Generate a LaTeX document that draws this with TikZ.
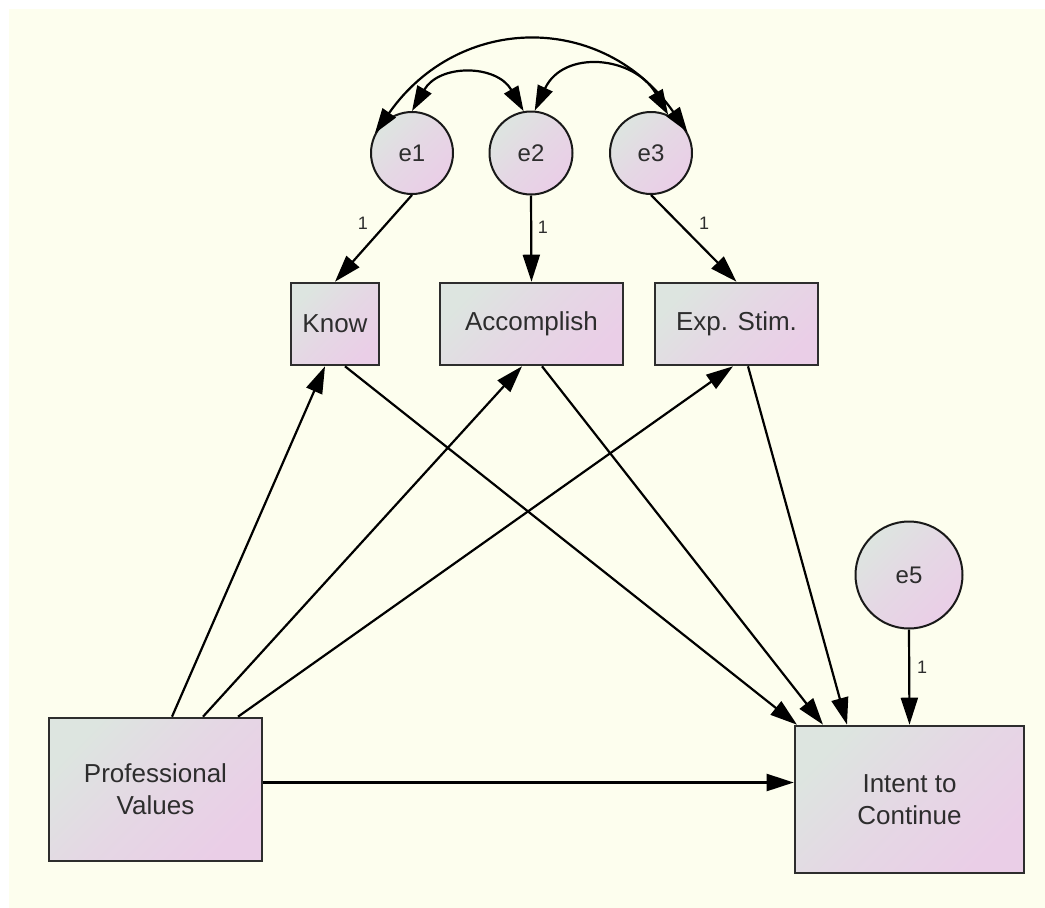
\documentclass[tikz,border=0pt]{standalone}
\usepackage{fontspec}
\newfontfamily\arialf{Liberation Sans}
\usetikzlibrary{arrows.meta,calc}
\definecolor{creambg}{RGB}{253,254,238}
\definecolor{gA}{RGB}{221,229,224}
\definecolor{gB}{RGB}{234,206,231}
\colorlet{gM}{gA!40!gB}
\definecolor{boxline}{RGB}{45,45,45}
\definecolor{txt}{RGB}{45,45,45}
\tikzset{
  obsbox/.style={rectangle, draw=boxline, line width=2.6pt, inner sep=0pt,
    left color=gA, right color=gB, middle color=gM, shading angle=45, align=center,
    text=txt, font=\arialf\fontsize{26}{32}\selectfont},
  errc/.style={circle, draw=black!90, line width=2pt, inner sep=0pt,
    left color=gA, right color=gB, middle color=gM, shading angle=45,
    text=txt, font=\arialf\fontsize{24}{28}\selectfont},
  pth/.style={line width=2.2pt, -{Triangle[length=27pt,width=17pt]}},
  cov/.style={line width=2.2pt, {Triangle[length=25pt,width=16pt]}-{Triangle[length=25pt,width=16pt]}},
  wlab/.style={inner sep=0pt, text=txt, font=\arialf\fontsize{18}{20}\selectfont}
}
\begin{document}
\begin{tikzpicture}[x=1pt,y=-1pt]
\useasboundingbox (0,0) rectangle (1045,908);
\fill[white] (0,0) rectangle (1045,908);
\fill[creambg] (9,9) rectangle (1060,920);

% error circles
\node[errc, minimum size=82pt] (e1) at (412,153) {e1};
\node[errc, minimum size=83pt] (e2) at (531,153) {e2};
\node[errc, minimum size=82pt] (e3) at (651,153) {e3};
\node[errc, minimum size=107pt] (e5) at (909,575) {e5};

% observed variables
\node[obsbox, minimum width=88pt, minimum height=82pt] (know) at (335,324) {Know};
\node[obsbox, minimum width=183pt, minimum height=82pt] (acc) at (531.5,324) {Accomplish};
\node[obsbox, minimum width=163pt, minimum height=82pt] (exp) at (736.5,324) {Exp. Stim.};
\node[obsbox, minimum width=213pt, minimum height=143pt] (pv) at (155.5,789.5) {Professional\\Values};
\node[obsbox, minimum width=229pt, minimum height=147pt] (itc) at (909.5,799.5) {Intent to\\Continue};

% covariances
\draw[cov] (e1.90) to[out=60,in=120,looseness=1.25] (e2.100);
\draw[cov] (e2.85) to[out=65,in=120,looseness=1.3] (e3.66);
\draw[cov] (e1.152) to[out=55,in=125,looseness=1.2] (e3.30);

% measurement paths
\draw[pth] (e1.south) -- (know.north);
\draw[pth] (e2.south) -- (acc.north);
\draw[pth] (e3.south) -- (exp.north);
\draw[pth] (e5.south) -- (itc.north);
\node[wlab] (l1) at (363,223) {1};
\node[wlab] (l2) at (543,227) {1};
\node[wlab] (l3) at (704,223) {1};
\node[wlab] (l5) at (922,667) {1};

% structural paths
\draw[pth] ([xshift=16.5pt]pv.north) -- ([xshift=-10pt]know.south);
\draw[pth] ([xshift=47.5pt]pv.north) -- ([xshift=-9.5pt]acc.south);
\draw[pth] ([xshift=82.5pt]pv.north) -- ([xshift=-3.5pt]exp.south);
\draw[pth] ([xshift=10pt]know.south) -- ([xshift=-112.5pt]itc.north);
\draw[pth] ([xshift=10.5pt]acc.south) -- ([xshift=-86.5pt]itc.north);
\draw[pth] ([xshift=11.5pt]exp.south) -- ([xshift=-62.5pt]itc.north);
\draw[pth] ([yshift=7pt]pv.east) -- ([yshift=17pt]itc.west);
\end{tikzpicture}
\end{document}
